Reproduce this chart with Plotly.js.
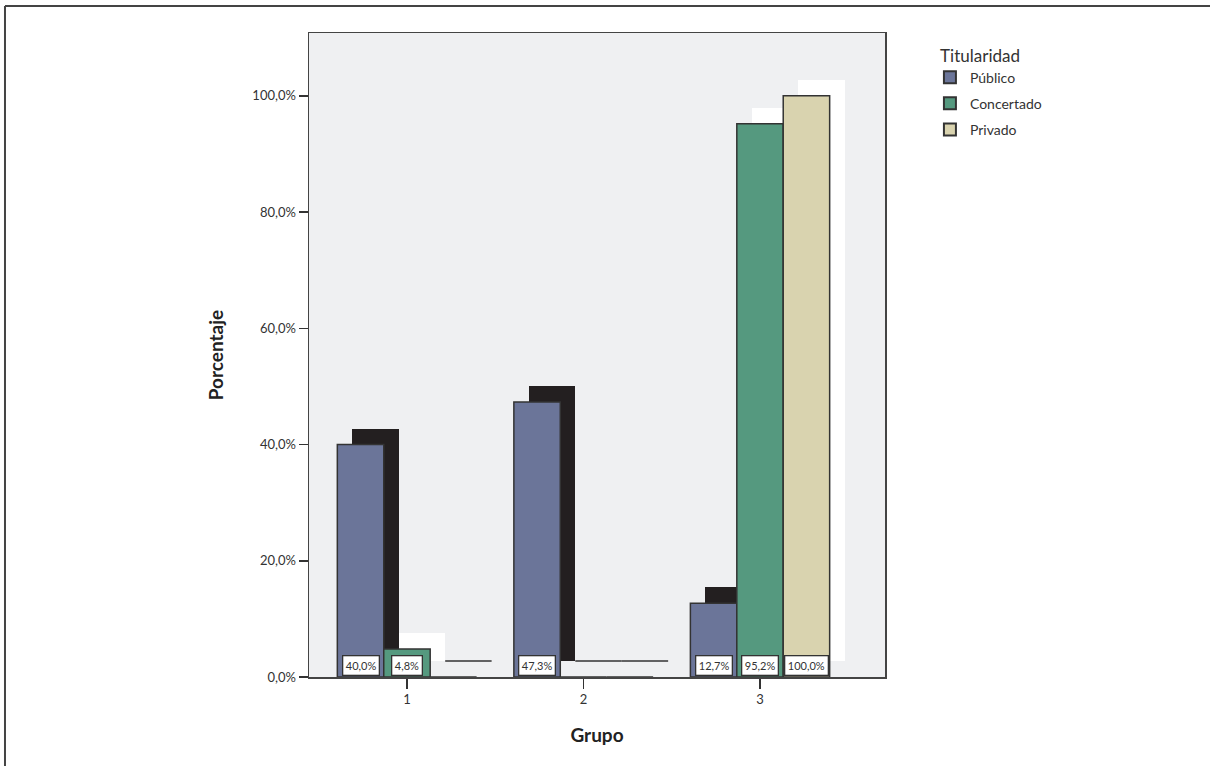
<!DOCTYPE html>
<html>
<head>
<meta charset="utf-8">
<script src="https://cdn.plot.ly/plotly-3.0.1.min.js"></script>
<style>html,body{margin:0;padding:0;background:#fff;}#chart{width:1210px;height:766px;}</style>
</head>
<body>
<div id="chart"></div>
<script>
// ---- data ----
const groups = [1, 2, 3];
const seriesNames = ["Público", "Concertado", "Privado"];
const publico = [40.0, 47.3, 12.7];
const concertado = [4.8, 0, 95.2];
const privado = [0, 0, 100.0];
const yTicks = [0, 20, 40, 60, 80, 100];
const yTickLabels = ["0,0%", "20,0%", "40,0%", "60,0%", "80,0%", "100,0%"];

// ---- styles ----
const fills = ["#6b7599", "#55997f", "#d9d3af"];
const shadowFills = ["#231f20", "#ffffff", "#ffffff"];
const outline = "#333333";
const W = 0.263;     // bar width in category units
const DX = 0.085;    // shadow offset right
const DY = 2.75;     // shadow offset up (percent)
const offsets = [-W, 0, W];
const series = [publico, concertado, privado];
const fontFam = "Lato, 'Open Sans', sans-serif";

const traces = [];
// shadows
series.forEach((vals, s) => {
  traces.push({
    type: "bar", x: groups.map(g => g + offsets[s] + DX), y: vals,
    base: vals.map(() => DY), width: W,
    marker: {color: shadowFills[s], line: {width: 0}},
    showlegend: false, hoverinfo: "skip"
  });
});
// zero-height shadow outlines
const zx = [], zy = [];
series.forEach((vals, s) => {
  vals.forEach((v, i) => {
    if (v === 0 && s > 0) {
      const c = groups[i] + offsets[s] + DX;
      zx.push(c - W / 2, c + W / 2, null);
      zy.push(DY, DY, null);
    }
  });
});
traces.push({type: "scatter", mode: "lines", x: zx, y: zy, line: {color: outline, width: 1.5},
  showlegend: false, hoverinfo: "skip"});
// main bars
series.forEach((vals, s) => {
  traces.push({
    type: "bar", name: seriesNames[s], legendgroup: seriesNames[s],
    x: groups.map(g => g + offsets[s]), y: vals, width: W,
    marker: {color: fills[s], line: {color: outline, width: 1.5}}
  });
});

// value labels
const annotations = [];
series.forEach((vals, s) => {
  vals.forEach((v, i) => {
    if (v > 0) {
      annotations.push({
        x: groups[i] + offsets[s], y: 0, xref: "x", yref: "y",
        yanchor: "bottom", yshift: 1.5, showarrow: false,
        text: v.toFixed(1).replace(".", ",") + "%",
        bgcolor: "#ffffff", bordercolor: outline, borderwidth: 1.3, borderpad: 2.5,
        font: {family: fontFam, size: 11, color: "#333"}
      });
    }
  });
});

const layout = {
  width: 1210, height: 766,
  margin: {l: 309, r: 325, t: 33, b: 89},
  paper_bgcolor: "#ffffff", plot_bgcolor: "#eff0f2",
  barmode: "overlay", bargap: 0,
  font: {family: fontFam, color: "#333"},
  xaxis: {
    range: [0.445, 3.708], tickvals: groups, ticktext: groups.map(String),
    ticks: "outside", ticklen: 10, tickcolor: "#333", tickwidth: 1.5,
    showgrid: false, zeroline: false, showline: true, mirror: true,
    linecolor: "#444", linewidth: 1.5,
    tickfont: {size: 13, color: "#333"},
    title: {text: "Grupo", font: {size: 19, color: "#222", weight: "bold"}, standoff: 22}
  },
  yaxis: {
    range: [0, 110.8], tickvals: yTicks, ticktext: yTickLabels,
    ticks: "outside", ticklen: 9, tickcolor: "#333", tickwidth: 1.5,
    showgrid: false, zeroline: false, showline: true, mirror: true,
    linecolor: "#444", linewidth: 1.5,
    tickfont: {size: 13, color: "#333"},
    title: {text: "Porcentaje", font: {size: 19, color: "#222", weight: "bold"}, standoff: 23}
  },
  legend: {
    x: 1.078, y: 0.99, xanchor: "left", yanchor: "top",
    bgcolor: "rgba(0,0,0,0)", traceorder: "grouped", tracegroupgap: 5,
    font: {size: 14, color: "#333"},
    title: {text: "\u00a0\u00a0Titularidad", font: {size: 17, color: "#333"}},
    itemsizing: "constant"
  },
  annotations: annotations,
  shapes: [
    {type: "line", xref: "paper", yref: "paper", x0: -0.5278, x1: -0.5278, y0: -0.3, y1: 1.0419,
     line: {color: "#444", width: 2}},
    {type: "line", xref: "paper", yref: "paper", x0: -0.5278, x1: 1.8, y0: 1.0419, y1: 1.0419,
     line: {color: "#444", width: 2}}
  ]
};

Plotly.newPlot("chart", traces, layout, {displayModeBar: false, staticPlot: true});
</script>
</body>
</html>
